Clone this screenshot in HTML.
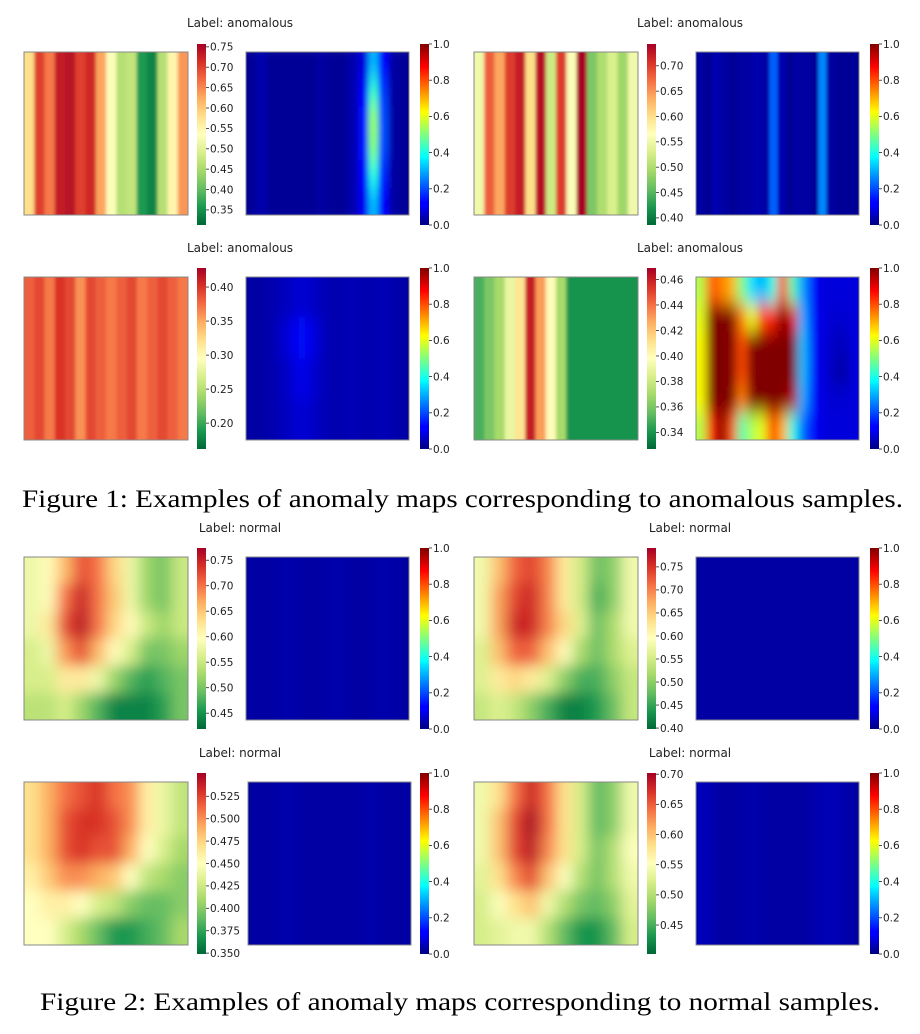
<!DOCTYPE html>
<html><head><meta charset="utf-8">
<style>
html,body{margin:0;padding:0;background:#fff;width:920px;height:1034px;overflow:hidden}
svg{display:block}
.tk{font-family:"DejaVu Sans","Liberation Sans",sans-serif;font-size:10.5px;fill:#222}
.tt{font-family:"DejaVu Sans","Liberation Sans",sans-serif;font-size:12px;fill:#222}
.cap{font-family:"Liberation Serif",serif;font-size:25px;fill:#000}
</style></head>
<body>
<svg id="fig" width="920" height="1034" viewBox="0 0 920 1034" xmlns="http://www.w3.org/2000/svg">
<defs>
<filter id="b1" x="-0.2" y="-0.2" width="1.4" height="1.4"><feGaussianBlur stdDeviation="1.5"/></filter>
<filter id="bA" x="-0.2" y="-0.2" width="1.4" height="1.4"><feGaussianBlur stdDeviation="3 12"/></filter>
<filter id="bD" x="-0.2" y="-0.2" width="1.4" height="1.4"><feGaussianBlur stdDeviation="5 9"/></filter>
<filter id="b6" x="-0.2" y="-0.2" width="1.4" height="1.4"><feGaussianBlur stdDeviation="7"/></filter>
<linearGradient id="gRdYlGn" x1="0" y1="1" x2="0" y2="0">
<stop offset="0" stop-color="#006837"/><stop offset="0.1" stop-color="#1a9850"/><stop offset="0.2" stop-color="#66bd63"/><stop offset="0.3" stop-color="#a6d96a"/><stop offset="0.4" stop-color="#d9ef8b"/><stop offset="0.5" stop-color="#ffffbf"/><stop offset="0.6" stop-color="#fee08b"/><stop offset="0.7" stop-color="#fdae61"/><stop offset="0.8" stop-color="#f46d43"/><stop offset="0.9" stop-color="#d73027"/><stop offset="1" stop-color="#a50026"/>
</linearGradient>
<linearGradient id="gJet" x1="0" y1="1" x2="0" y2="0">
<stop offset="0" stop-color="#000080"/><stop offset="0.11" stop-color="#0000ff"/><stop offset="0.125" stop-color="#0000ff"/><stop offset="0.35" stop-color="#00e0ff"/><stop offset="0.375" stop-color="#00ffff"/><stop offset="0.625" stop-color="#ffff00"/><stop offset="0.875" stop-color="#ff0000"/><stop offset="1" stop-color="#800000"/>
</linearGradient>
</defs>
<text class="cap" x="22" y="507" textLength="881" lengthAdjust="spacingAndGlyphs">Figure 1: Examples of anomaly maps corresponding to anomalous samples.</text>
<text class="cap" x="40" y="1010" textLength="840" lengthAdjust="spacingAndGlyphs">Figure 2: Examples of anomaly maps corresponding to normal samples.</text>
</svg>
<script>
// ---- data: input-image grids (rows of column values), in colorbar units ----
const imgA = [[0.58,0.70,0.66,0.73,0.74,0.70,0.72,0.63,0.53,0.46,0.47,0.36,0.34,0.46,0.55,0.64]];
const imgB = [[0.55,0.68,0.64,0.70,0.72,0.60,0.73,0.52,0.70,0.56,0.74,0.47,0.50,0.53,0.49,0.55]];
const imgC = [[0.38,0.39,0.37,0.40,0.39,0.36,0.39,0.38,0.37,0.38,0.39,0.37,0.38,0.39,0.38,0.37]];
const imgD = [[0.35,0.36,0.37,0.39,0.41,0.46,0.43,0.40,0.37,0.34,0.34,0.34,0.34,0.34,0.34,0.34]];
const imgE = [
 [0.58,0.60,0.66,0.72,0.70,0.64,0.58,0.52,0.50,0.55],
 [0.58,0.60,0.70,0.75,0.70,0.65,0.58,0.52,0.50,0.55],
 [0.58,0.62,0.72,0.76,0.70,0.64,0.60,0.55,0.52,0.55],
 [0.56,0.58,0.68,0.72,0.66,0.60,0.56,0.50,0.50,0.52],
 [0.56,0.56,0.62,0.62,0.58,0.52,0.48,0.46,0.48,0.50],
 [0.54,0.54,0.56,0.52,0.48,0.44,0.44,0.44,0.46,0.50]];
const imgF = [
 [0.58,0.66,0.72,0.74,0.70,0.62,0.55,0.48,0.50,0.58],
 [0.58,0.68,0.74,0.76,0.70,0.62,0.55,0.46,0.50,0.58],
 [0.58,0.68,0.76,0.76,0.70,0.64,0.56,0.48,0.52,0.58],
 [0.56,0.66,0.72,0.72,0.66,0.60,0.52,0.48,0.52,0.56],
 [0.56,0.62,0.64,0.62,0.56,0.50,0.46,0.46,0.50,0.54],
 [0.54,0.56,0.54,0.50,0.46,0.42,0.42,0.44,0.48,0.54]];
const imgG = [
 [0.47,0.49,0.51,0.52,0.53,0.51,0.50,0.46,0.44,0.42],
 [0.47,0.49,0.52,0.53,0.53,0.52,0.50,0.46,0.44,0.42],
 [0.47,0.49,0.52,0.53,0.52,0.52,0.49,0.45,0.43,0.41],
 [0.46,0.48,0.50,0.50,0.49,0.48,0.45,0.42,0.41,0.40],
 [0.45,0.46,0.46,0.45,0.43,0.42,0.40,0.39,0.39,0.40],
 [0.45,0.45,0.43,0.41,0.39,0.37,0.37,0.38,0.39,0.41]];
const imgH = [
 [0.54,0.58,0.64,0.68,0.64,0.58,0.52,0.46,0.48,0.54],
 [0.54,0.60,0.66,0.70,0.64,0.58,0.52,0.46,0.48,0.54],
 [0.54,0.60,0.66,0.69,0.63,0.58,0.52,0.47,0.50,0.55],
 [0.53,0.58,0.63,0.66,0.60,0.55,0.50,0.47,0.50,0.54],
 [0.52,0.55,0.58,0.60,0.54,0.50,0.47,0.46,0.48,0.53],
 [0.52,0.53,0.54,0.54,0.50,0.46,0.43,0.43,0.46,0.52]];
// ---- data: anomaly maps (0..1) ----
const mapA = [
 [0.02,0.04,0.02,0.02,0.02,0.02,0.02,0.03,0.02,0.02,0.04,0.08,0.30,0.12,0.03,0.02],
 [0.02,0.04,0.02,0.02,0.02,0.02,0.02,0.03,0.02,0.02,0.04,0.12,0.42,0.18,0.03,0.02],
 [0.02,0.04,0.02,0.02,0.02,0.02,0.02,0.03,0.02,0.02,0.04,0.14,0.52,0.20,0.03,0.02],
 [0.02,0.04,0.02,0.02,0.02,0.02,0.02,0.03,0.02,0.02,0.04,0.14,0.50,0.20,0.03,0.02],
 [0.02,0.04,0.02,0.02,0.02,0.02,0.02,0.03,0.02,0.02,0.04,0.12,0.40,0.16,0.03,0.02],
 [0.02,0.04,0.02,0.02,0.02,0.02,0.02,0.03,0.02,0.02,0.04,0.10,0.30,0.12,0.03,0.02]];
const mapB = [[0.03,0.02,0.04,0.03,0.02,0.03,0.03,0.04,0.03,0.22,0.04,0.02,0.03,0.03,0.02,0.26,0.03,0.02,0.02,0.02]];
const mapC = [
 [0.03,0.03,0.04,0.05,0.06,0.08,0.06,0.05,0.04,0.04,0.05,0.04,0.04,0.05,0.04,0.03],
 [0.03,0.03,0.04,0.06,0.09,0.14,0.09,0.05,0.04,0.04,0.05,0.04,0.04,0.05,0.04,0.03],
 [0.03,0.03,0.04,0.05,0.07,0.10,0.07,0.05,0.04,0.04,0.05,0.04,0.04,0.05,0.04,0.03],
 [0.03,0.03,0.04,0.05,0.06,0.08,0.06,0.05,0.04,0.04,0.05,0.04,0.04,0.05,0.04,0.03]];
const mapD = [
 [0.55,0.80,0.75,0.70,0.50,0.35,0.30,0.40,0.85,0.45,0.28,0.12,0.08,0.08,0.08,0.08],
 [0.60,1.00,1.00,1.00,0.75,0.60,0.80,0.85,1.00,0.90,0.30,0.12,0.08,0.07,0.07,0.08],
 [0.62,1.00,1.00,1.00,0.80,1.00,1.00,1.00,1.00,1.00,0.32,0.12,0.08,0.06,0.05,0.08],
 [0.62,1.00,1.00,1.00,0.80,1.00,1.00,1.00,1.00,1.00,0.32,0.12,0.08,0.05,0.03,0.08],
 [0.62,1.00,1.00,1.00,0.75,1.00,1.00,1.00,1.00,0.95,0.30,0.12,0.08,0.07,0.07,0.08],
 [0.55,0.85,1.00,0.80,0.45,0.55,0.60,0.85,0.70,0.40,0.22,0.12,0.08,0.08,0.08,0.08]];
const mapE = [[0.03,0.03,0.04,0.03,0.03,0.04,0.03,0.03,0.04,0.03]];
const mapF = [[0.03,0.03,0.03,0.03,0.03,0.03,0.03,0.03,0.03,0.03]];
const mapG = [[0.03,0.03,0.04,0.03,0.03,0.03,0.03,0.04,0.03,0.03]];
const mapH = [[0.05,0.03,0.03,0.04,0.03,0.03,0.03,0.04,0.05,0.03]];
// ---- colorbar ranges & ticks ----
const rangeA=[0.313,0.757], ticksA=[0.35,0.40,0.45,0.50,0.55,0.60,0.65,0.70,0.75];
const rangeB=[0.386,0.743], ticksB=[0.40,0.45,0.50,0.55,0.60,0.65,0.70];
const rangeC=[0.162,0.428], ticksC=[0.20,0.25,0.30,0.35,0.40];
const rangeD=[0.327,0.469], ticksD=[0.34,0.36,0.38,0.40,0.42,0.44,0.46];
const rangeE=[0.419,0.774], ticksE=[0.45,0.50,0.55,0.60,0.65,0.70,0.75];
const rangeF=[0.398,0.791], ticksF=[0.40,0.45,0.50,0.55,0.60,0.65,0.70,0.75];
const rangeG=[0.349,0.551], ticksG=[0.350,0.375,0.400,0.425,0.450,0.475,0.500,0.525];
const rangeH=[0.402,0.702], ticksH=[0.45,0.50,0.55,0.60,0.65,0.70];
const jetRange=[0,1], jetTicks=[0.0,0.2,0.4,0.6,0.8,1.0];

const NS="http://www.w3.org/2000/svg";
const svg=document.getElementById('fig');
const defs=svg.querySelector('defs');
function mk(tag,attrs,parent){const e=document.createElementNS(NS,tag);for(const k in attrs)e.setAttribute(k,attrs[k]);(parent||svg).appendChild(e);return e;}
function lerpStops(stops,t){t=Math.max(0,Math.min(1,t));for(let i=1;i<stops.length;i++){if(t<=stops[i][0]){const a=stops[i-1],b=stops[i];const f=(t-a[0])/(b[0]-a[0]||1);const c=[0,1,2].map(j=>Math.round(a[1][j]+(b[1][j]-a[1][j])*f));return 'rgb('+c.join(',')+')';}}const l=stops[stops.length-1][1];return 'rgb('+l.join(',')+')';}
const RDYLGN=[[0,[0,104,55]],[0.1,[26,152,80]],[0.2,[102,189,99]],[0.3,[166,217,106]],[0.4,[217,239,139]],[0.5,[255,255,191]],[0.6,[254,224,139]],[0.7,[253,174,97]],[0.8,[244,109,67]],[0.9,[215,48,39]],[1,[165,0,38]]];
const JET=[[0,[0,0,128]],[0.11,[0,0,255]],[0.125,[0,0,255]],[0.35,[0,224,255]],[0.375,[0,255,255]],[0.625,[255,255,0]],[0.875,[255,0,0]],[1,[128,0,0]]];

let clipN=0;
function heat(grid,x,y,w,h,range,cmap,blurId,name){
  const cid='clip'+(clipN++);
  const cp=mk('clipPath',{id:cid},defs);
  mk('rect',{x:x,y:y,width:w,height:h},cp);
  const g=mk('g',{'clip-path':'url(#'+cid+')'});
  
  
  const inner=mk('g',{filter:'url(#'+blurId+')'},g);
  const R=grid.length, P=20;
  grid.forEach((row,ri)=>{const C=row.length;row.forEach((v,ci)=>{
    const t=(v-range[0])/(range[1]-range[0]);
    let x0=x+w*ci/C, y0=y+h*ri/R, x1=x+w*(ci+1)/C+0.6, y1=y+h*(ri+1)/R+0.6;
    if(ci===0)x0-=P; if(ci===C-1)x1+=P; if(ri===0)y0-=P; if(ri===R-1)y1+=P;
    const r=mk('rect',{x:x0.toFixed(2),y:y0.toFixed(2),width:(x1-x0).toFixed(2),height:(y1-y0).toFixed(2),fill:lerpStops(cmap,t)},inner);
    
    
  });});
  mk('rect',{x:x,y:y,width:w,height:h,fill:'none',stroke:'#888','stroke-width':1});
}
function cbar(x,y,h,range,ticks,grad,dec,name){
  const g=mk('g',{});
  
  
  mk('rect',{x:x,y:y,width:9,height:h,fill:'url(#'+grad+')'},g);
  ticks.forEach(t=>{
    const ty=y+h-(t-range[0])/(range[1]-range[0])*h;
    mk('line',{x1:x+9,x2:x+12,y1:ty,y2:ty,stroke:'#222','stroke-width':0.8},g);
    const tx=mk('text',{x:x+13,y:ty+3.8,class:'tk'},g);
    tx.textContent=t.toFixed(dec);
    
    
  });
}
function title(x,y,txt,name){const t=mk('text',{x:x,y:y,'text-anchor':'middle',class:'tt'});t.textContent=txt;}

const rows=[{img:52,cb:44,tt:27},{img:277,cb:268,tt:252},{img:557,cb:548,tt:532},{img:782,cb:773,tt:757}];
const panels=[
 [0,0,imgA,rangeA,ticksA,2,'b1',mapA,'bA','anomalous'],
 [1,0,imgB,rangeB,ticksB,2,'b1',mapB,'b1','anomalous'],
 [0,1,imgC,rangeC,ticksC,2,'b1',mapC,'b6','anomalous'],
 [1,1,imgD,rangeD,ticksD,2,'b1',mapD,'bD','anomalous'],
 [0,2,imgE,rangeE,ticksE,2,'b6',mapE,'b6','normal'],
 [1,2,imgF,rangeF,ticksF,2,'b6',mapF,'b6','normal'],
 [0,3,imgG,rangeG,ticksG,3,'b6',mapG,'b6','normal'],
 [1,3,imgH,rangeH,ticksH,2,'b6',mapH,'b6','normal']];
panels.forEach((p,i)=>{
  const [col,row,img,rg,tk,dec,ib,map,bl,lab]=p;
  const ox=col?450:0; const r=rows[row];
  title(ox+240,r.tt,'Label: '+lab,'panel-title-'+(i+1));
  heat(img,ox+24,r.img,164,163,rg,RDYLGN,ib,'input-heatmap-'+(i+1));
  cbar(ox+197,r.cb,181,rg,tk,'gRdYlGn',dec,'input-colorbar-'+(i+1));
  const rx=(i===6)?248:ox+246;
  heat(map,rx,r.img,163,163,jetRange,JET,bl,'anomaly-map-'+(i+1));
  cbar(ox+420,r.cb,181,jetRange,jetTicks,'gJet',1,'anomaly-colorbar-'+(i+1));
});
</script>
</body></html>
